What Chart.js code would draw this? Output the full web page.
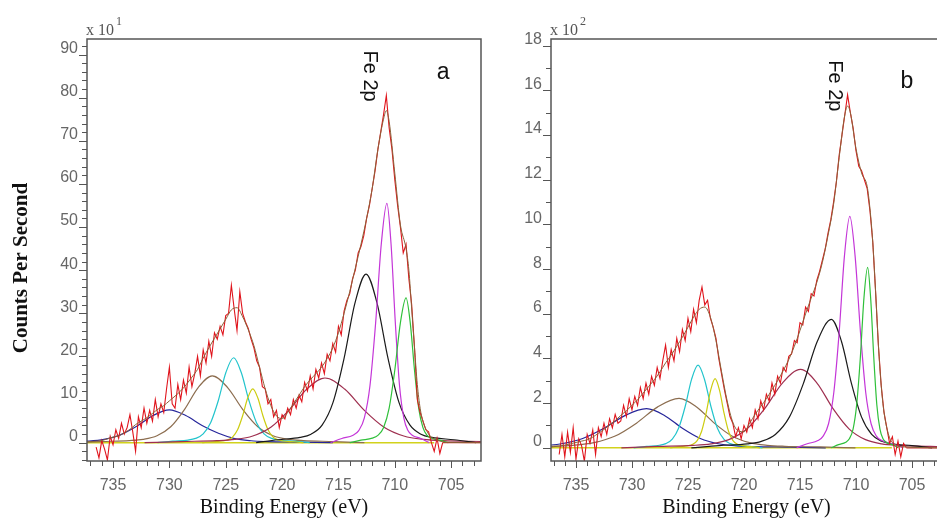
<!DOCTYPE html>
<html>
<head>
<meta charset="utf-8">
<script src="https://cdn.jsdelivr.net/npm/chart.js@4.4.1/dist/chart.umd.min.js"></script>
<style>
  html, body { margin: 0; padding: 0; background: #fff; overflow: hidden; }
  body { width: 937px; height: 523px; position: relative; }
  canvas { position: absolute; top: 0; }
  #chartA { left: 0; }
  #chartB { left: 484px; }
</style>
</head>
<body>
<canvas id="chartA" width="484" height="523"></canvas>
<canvas id="chartB" width="460" height="523"></canvas>
<script>
// raw spectra are sampled every 0.25 eV starting at 736.5 eV
const rawStart = 736.5;
const rawStep = 0.25;

// ---- panel a (counts x10) ----
const rawA = [
  -1, -3.5, 0.5, -1.5,  -4, 1.5, -0.5, 3,  1, 4.5, 2, 3.5,  6.5, 2.5, -2, 6,
  3.5, 8, 4.5, 7.5,  5, 10, 6, 9,  7, 12.5, 17.5, 9,  8, 13.5, 10, 14.5,
  11.5, 17.5, 13, 16,  20, 15.5, 21.5, 18.5,  23.5, 20, 25.5, 24,  27, 25, 29.5, 30,
  36.5, 31, 26, 35,  30, 28, 26.5, 24,  22, 19, 17.5, 13,  12.5, 9, 10, 6,
  7.5, 3.5, 6.5, 5.5,  8, 6.5, 10, 8,  11, 9.5, 14, 12,  15.5, 12.5, 17, 15,
  18.5, 16, 20.5, 19,  23, 21, 27, 25,  30.5, 33, 34.5, 38,  40, 44, 45.5, 48,
  52, 55, 59, 63,  68, 72, 76, 80.5,  73, 68, 61, 55,  50, 44, 46, 38,
  32, 22, 10, 7,  5, 3, 2.5, 0,  -2, 1, -2.5, 0
];
const envA = [[737.3,0.2],[736.5,0.35],[736,0.5],[735.5,0.9],[735,1.3],[734.5,1.6],[734,2.3],[733.5,3.1],
  [733,4.2],[732.5,5.0],[732,5.8],[731.5,6.8],[731,7.8],[730.5,8.6],[730,9.7],[729.5,10.8],[729,12.0],
  [728.5,13.5],[728,15.2],[727.5,17.0],[727,19.6],[726.5,22.0],[726,24.2],[725.5,26.4],[725,28.6],
  [724.5,30.8],[724,31.3],[723.5,29.2],[723,26.2],[722.5,22.5],[722,17.5],[721.5,12.5],[721,8.6],
  [720.5,6.2],[720,5.6],[719.5,7.0],[719,9.0],[718.5,11.0],[718,13.0],[717.5,14.6],[717,16.0],
  [716.5,17.5],[716,19.5],[715.5,22.0],[715,25.5],[714.5,30.0],[714,35.0],[713.5,40.5],[713,46.0],
  [712.5,52.0],[712,59.0],[711.5,68.0],[711,75.0],[710.75,77.0],[710.5,74.5],[710,62.5],[709.5,50.5],
  [709,45.0],[708.75,40],[708.5,31],[708.25,22],[708,13.5],[707.75,8],[707.5,5],[707,2.0],[706.5,0.9],
  [706,0.4],[705.5,0.1],[702,0]];
const navyA = [[744.5,0],[741.6,0.13],[738.7,0.24],[737.25,0.38],[735.8,0.79],[734.35,1.82],[732.9,3.8],
  [731.45,6.3],[730,7.6],[728.55,6.3],[727.1,4.0],[725.65,2.2],[724.2,0.95],[722.75,0.45],[721.3,0.26],
  [718.4,0.13],[715.5,0]];
const brownA = [[738.45,0],[736.0,0.27],[733.55,0.49],[732.33,0.78],[731.1,1.61],[729.88,3.7],[728.65,7.75],
  [727.43,12.85],[726.2,15.5],[724.85,12.85],[723.5,7.75],[722.15,3.7],[720.8,1.61],[719.45,0.78],
  [718.1,0.49],[715.4,0.27],[712.7,0]];
const cyanA = [[731.05,0],[729.7,0.35],[728.35,0.62],[727.68,1.0],[727.0,2.05],[726.33,4.71],[725.65,9.85],
  [724.98,16.33],[724.3,19.7],[723.63,16.33],[722.95,9.85],[722.28,4.71],[721.6,2.05],[720.93,1.0],
  [720.25,0.62],[718.9,0.35],[717.55,0]];
const yellowA = [[727.1,0],[726.2,0.22],[725.3,0.39],[724.85,0.63],[724.4,1.3],[723.95,2.99],[723.5,6.25],
  [723.05,10.36],[722.6,12.5],[722.15,10.36],[721.7,6.25],[721.25,2.99],[720.8,1.3],[720.35,0.63],
  [719.9,0.39],[719.0,0.22],[718.1,0]];
const maroonA = [[732.2,0],[729.0,0.27],[725.8,0.47],[724.2,0.76],[722.6,1.56],[721.0,3.59],[719.4,7.5],
  [717.8,12.44],[716.2,15.0],[714.45,12.44],[712.7,7.5],[710.95,3.59],[709.2,1.56],[707.45,0.76],
  [705.7,0.47],[702.2,0.27],[698.7,0]];
const blackA = [[722.3,0],[720.35,0.69],[718.4,1.22],[717.43,1.98],[716.45,4.07],[715.48,9.34],[714.5,19.55],
  [713.53,32.41],[712.55,39.1],[711.58,32.41],[710.6,19.55],[709.63,9.34],[708.65,4.07],[707.68,1.98],
  [706.7,1.22],[704.75,0.69],[702.8,0]];
const magentaA = [[715.7,0],[714.7,0.98],[713.7,1.74],[713.2,2.81],[712.7,5.77],[712.2,13.26],[711.7,27.75],
  [711.2,46.0],[710.7,55.5],[710.33,46.0],[709.95,27.75],[709.58,13.26],[709.2,5.77],[708.83,2.81],
  [708.45,1.74],[707.7,0.98],[706.95,0]];
const greenA = [[714.0,0],[713.0,0.59],[712.0,1.05],[711.5,1.7],[711.0,3.49],[710.5,8.03],[710.0,16.8],
  [709.5,27.85],[709.0,33.6],[708.63,27.85],[708.25,16.8],[707.88,8.03],[707.5,3.49],[707.13,1.7],
  [706.75,1.05],[706.0,0.59],[705.25,0]];
const baseA = [[737.4,0],[706.5,0]];
const tailA = [[705.75,0],[702,0]];

// ---- panel b (counts x100) ----
const rawB = [
  -0.3, 0.6, -0.4, 0.7,  -0.2, 0.9, -0.5, 0.4,  0.1, -0.6, 0.6, 0.2,  0.8, -0.3, 0.9, 0.5,
  1.1, 0.6, 1.3, 0.9,  1.5, 1.1, 1.2, 1.9,  1.4, 2.2, 1.7, 2.3,  1.9, 2.7, 2.2, 2.9,
  2.4, 3.2, 2.8, 3.6,  3.1, 3.9, 4.6, 3.6,  4.4, 3.9, 4.9, 4.3,  5.3, 4.8, 5.8, 5.2,
  6.2, 5.6, 6.6, 7.2,  6.4, 6.6, 5.8, 5.4,  4.9, 4.0, 3.3, 2.6,  2.0, 1.4, 1.1, 0.5,
  0.9, 0.4, 1.0, 0.7,  1.3, 0.9, 1.7, 1.3,  2.1, 1.7, 2.4, 2.1,  2.9, 2.4, 3.2, 2.9,
  3.6, 3.4, 4.1, 4.2,  4.8, 4.7, 5.6, 5.5,  6.3, 6.1, 6.9, 6.8,  7.5, 7.9, 8.4, 8.9,
  9.6, 10.2, 11.0, 11.9,  13.1, 14.0, 14.9, 15.8,  15.0, 14.3, 13.3, 12.6,  12.4, 12.0, 11.6, 10.6,
  9.2, 7.0, 4.6, 2.8,  1.6, 0.9, 0.2, 0.5,  -0.3, 0.3, -0.4, 0.2,  0.0
];
const envB = [[737.3,0.03],[737,0.05],[736.5,0.08],[736,0.12],[735.5,0.18],[735,0.24],[734.5,0.3],[734,0.36],
  [733.5,0.48],[733,0.65],[732.5,0.82],[732,1.02],[731.5,1.22],[731,1.45],[730.5,1.66],[730,1.9],
  [729.5,2.15],[729,2.45],[728.5,2.75],[728,3.05],[727.5,3.4],[727,3.8],[726.5,4.15],[726,4.55],
  [725.5,4.95],[725,5.4],[724.5,5.85],[724,6.2],[723.5,6.3],[723,5.85],[722.5,4.8],[722,3.4],
  [721.5,2.1],[721,1.15],[720.5,0.75],[720,0.72],[719.5,1.1],[719,1.5],[718.5,1.85],[718,2.2],
  [717.5,2.6],[717,3.0],[716.5,3.45],[716,3.95],[715.5,4.55],[715,5.25],[714.5,6.0],[714,6.7],
  [713.5,7.4],[713,8.3],[712.5,9.5],[712,10.9],[711.5,13.0],[711,14.9],[710.75,15.3],[710.5,15.0],
  [710,13.4],[709.5,12.3],[709,11.7],[708.75,10.7],[708.5,9.2],[708.25,7.0],[708,4.6],[707.75,2.8],
  [707.5,1.6],[707,0.45],[706.5,0.15],[706,0.05],[702,0]];
const navyB = [[747.7,0],[743.9,0.031],[740.1,0.055],[738.2,0.089],[736.3,0.182],[734.4,0.418],[732.5,0.875],
  [730.6,1.451],[728.7,1.75],[727.1,1.451],[725.5,0.875],[723.9,0.418],[722.3,0.182],[720.7,0.089],
  [719.1,0.055],[715.9,0.031],[712.7,0]];
const brownB = [[744.8,0],[741.0,0.039],[737.2,0.069],[735.3,0.112],[733.4,0.23],[731.5,0.528],[729.6,1.105],
  [727.7,1.832],[725.8,2.21],[724.23,1.832],[722.65,1.105],[721.08,0.528],[719.5,0.23],[717.93,0.112],
  [716.35,0.069],[713.2,0.039],[710.05,0]];
const cyanB = [[729.85,0],[728.7,0.065],[727.55,0.116],[726.98,0.187],[726.4,0.385],[725.83,0.884],[725.25,1.85],
  [724.68,3.067],[724.1,3.7],[723.53,3.067],[722.95,1.85],[722.38,0.884],[721.8,0.385],[721.23,0.187],
  [720.65,0.116],[719.5,0.065],[718.35,0]];
const yellowB = [[726.58,0],[725.78,0.055],[724.98,0.097],[724.58,0.157],[724.18,0.322],[723.78,0.741],
  [723.38,1.55],[722.98,2.57],[722.58,3.1],[722.18,2.57],[721.78,1.55],[721.38,0.741],[720.98,0.322],
  [720.58,0.157],[720.18,0.097],[719.38,0.055],[718.58,0]];
const maroonB = [[730.95,0],[727.75,0.062],[724.55,0.11],[722.95,0.178],[721.35,0.365],[719.75,0.839],
  [718.15,1.755],[716.55,2.91],[714.95,3.51],[713.5,2.91],[712.05,1.755],[710.6,0.839],[709.15,0.365],
  [707.7,0.178],[706.25,0.11],[703.35,0.062],[700.45,0]];
const blackB = [[724.7,0],[722.2,0.102],[719.7,0.18],[718.45,0.291],[717.2,0.598],[715.95,1.374],[714.7,2.875],
  [713.45,4.77],[712.2,5.75],[711.3,4.77],[710.4,2.875],[709.5,1.374],[708.6,0.598],[707.7,0.291],
  [706.8,0.18],[705.0,0.102],[703.2,0]];
const magentaB = [[715.3,0],[714.35,0.183],[713.4,0.324],[712.93,0.524],[712.45,1.077],[711.98,2.476],
  [711.5,5.18],[711.03,8.59],[710.55,10.36],[710.08,8.59],[709.6,5.18],[709.13,2.476],[708.65,1.077],
  [708.18,0.524],[707.7,0.324],[706.75,0.183],[705.8,0]];
const greenB = [[712.21,0],[711.56,0.143],[710.91,0.253],[710.59,0.409],[710.26,0.84],[709.94,1.93],
  [709.61,4.04],[709.29,6.7],[708.96,8.08],[708.69,6.7],[708.41,4.04],[708.14,1.93],[707.86,0.84],
  [707.59,0.409],[707.31,0.253],[706.76,0.143],[706.21,0]];
const baseB = [[737.4,0],[706.8,0]];
const tailB = [[705.5,0],[702,0]];

const tickFont = '"Liberation Sans", Arial, sans-serif';
const serifFont = '"Liberation Serif", "Times New Roman", serif';

function isMultiple(v, m) {
  return Math.abs(v / m - Math.round(v / m)) < 1e-6;
}

function rawPairs(values) {
  return values.map((v, i) => [rawStart - i * rawStep, v]);
}

function series(pairs, color, width, smooth) {
  return {
    data: pairs.map(p => ({ x: p[0], y: p[1] })),
    borderColor: color,
    borderWidth: width,
    pointRadius: 0,
    fill: false,
    tension: smooth ? 0.4 : 0,
    cubicInterpolationMode: smooth ? 'monotone' : 'default'
  };
}

// first dataset is drawn on top
function makeDatasets(p) {
  return [
    series(p.env, '#8a6239', 1, true),
    series(p.raw, '#e0141c', 1.1, false),
    series(p.tail, '#c8302c', 1.2, false),
    series(p.green, '#2fc03a', 1.2, true),
    series(p.magenta, '#c436d8', 1.2, true),
    series(p.black, '#1a1a1a', 1.2, true),
    series(p.maroon, '#9e2f4f', 1.2, true),
    series(p.yellow, '#cccc10', 1.2, true),
    series(p.cyan, '#22c4cc', 1.2, true),
    series(p.brown, '#8c6d4f', 1.2, true),
    series(p.navy, '#26269a', 1.2, true),
    series(p.base, '#d2d21c', 1.5, false)
  ];
}

// frame, tick marks and the texts of each panel
const notesPlugin = {
  id: 'notes',
  afterDraw(chart, args, o) {
    const ctx = chart.ctx;
    const a = chart.chartArea;
    const xs = chart.scales.x;
    const ys = chart.scales.y;
    ctx.save();

    ctx.strokeStyle = '#555';
    ctx.lineWidth = 1;
    ctx.beginPath();
    xs.ticks.forEach(t => {
      const px = Math.round(xs.getPixelForValue(t.value)) + 0.5;
      const len = isMultiple(t.value, 5) ? 7 : 5;
      ctx.moveTo(px, a.bottom);
      ctx.lineTo(px, a.bottom + len);
    });
    ys.ticks.forEach(t => {
      const py = Math.round(ys.getPixelForValue(t.value)) + 0.5;
      const len = isMultiple(t.value, o.yMajor) ? 8 : 5;
      ctx.moveTo(a.left, py);
      ctx.lineTo(a.left - len, py);
    });
    ctx.stroke();

    ctx.lineWidth = 1.5;
    ctx.strokeRect(a.left, a.top, a.right - a.left, a.bottom - a.top);

    // Fe 2p, rotated clockwise
    ctx.fillStyle = '#111';
    ctx.textAlign = 'center';
    ctx.textBaseline = 'middle';
    ctx.save();
    ctx.translate(xs.getPixelForValue(o.feE), ys.getPixelForValue(o.feY));
    ctx.rotate(Math.PI / 2);
    ctx.font = '20px ' + tickFont;
    ctx.fillText('Fe 2p', 0, 0);
    ctx.restore();

    ctx.font = '23px ' + tickFont;
    ctx.fillText(o.letter, xs.getPixelForValue(o.letterE), ys.getPixelForValue(o.letterY));

    // multiplier
    ctx.fillStyle = '#555';
    ctx.textAlign = 'left';
    ctx.font = '16px ' + serifFont;
    ctx.fillText('x 10', a.left - 1, 31);
    ctx.font = '12px ' + serifFont;
    ctx.fillText(o.exp, a.left + 29, 22);

    // axis titles
    ctx.fillStyle = '#111';
    ctx.textAlign = 'center';
    ctx.font = '20px ' + serifFont;
    ctx.fillText('Binding Energy (eV)', (a.left + a.right) / 2, 508);
    if (o.yTitle) {
      ctx.save();
      ctx.translate(22, 268);
      ctx.rotate(-Math.PI / 2);
      ctx.font = 'bold 21px ' + serifFont;
      ctx.fillText('Counts Per Second', 0, 0);
      ctx.restore();
    }
    ctx.restore();
  }
};

function makeOptions(cfg) {
  const tickGrid = {
    display: true, drawOnChartArea: false, drawTicks: true,
    tickLength: 7, tickColor: 'rgba(0,0,0,0)'
  };
  return {
    responsive: false,
    animation: false,
    devicePixelRatio: 1,
    events: [],
    layout: { padding: { top: 39, right: cfg.padRight, left: 0, bottom: 0 } },
    plugins: {
      legend: { display: false },
      tooltip: { enabled: false },
      notes: cfg.notes
    },
    scales: {
      x: {
        type: 'linear',
        reverse: true,
        min: cfg.xMin,
        max: cfg.xMax,
        afterFit: s => { s.height = 62; },
        grid: tickGrid,
        border: { display: false },
        ticks: {
          stepSize: 1, autoSkip: false, includeBounds: false, maxRotation: 0,
          padding: 8, color: '#666', font: { family: tickFont, size: 16 },
          callback: v => isMultiple(v, 5) ? String(v) : ''
        }
      },
      y: {
        type: 'linear',
        min: cfg.yMin,
        max: cfg.yMax,
        afterFit: s => { s.width = cfg.yWidth; },
        grid: tickGrid,
        border: { display: false },
        ticks: {
          stepSize: cfg.yMinor, autoSkip: false, includeBounds: false,
          padding: 2, labelOffset: -6, color: '#666', font: { family: tickFont, size: 16 },
          callback: v => isMultiple(v, cfg.yMajor) ? String(v) : ''
        }
      }
    }
  };
}

new Chart(document.getElementById('chartA'), {
  type: 'line',
  data: {
    datasets: makeDatasets({
      env: envA, raw: rawPairs(rawA), tail: tailA, base: baseA,
      navy: navyA, brown: brownA, cyan: cyanA, yellow: yellowA,
      maroon: maroonA, black: blackA, magenta: magentaA, green: greenA
    })
  },
  options: makeOptions({
    xMin: 702.35, xMax: 737.31, yMin: -4.24, yMax: 93.6,
    yMinor: 2, yMajor: 10, yWidth: 87, padRight: 3,
    notes: { yMajor: 10, letter: 'a', letterE: 705.7, letterY: 85.7, feE: 712.2, feY: 85, exp: '1', yTitle: true }
  }),
  plugins: [notesPlugin]
});

new Chart(document.getElementById('chartB'), {
  type: 'line',
  data: {
    datasets: makeDatasets({
      env: envB, raw: rawPairs(rawB), tail: tailB, base: baseB,
      navy: navyB, brown: brownB, cyan: cyanB, yellow: yellowB,
      maroon: maroonB, black: blackB, magenta: magentaB, green: greenB
    })
  },
  options: makeOptions({
    xMin: 702.32, xMax: 737.23, yMin: -0.59, yMax: 18.3,
    yMinor: 1, yMajor: 2, yWidth: 67, padRight: 2,
    notes: { yMajor: 2, letter: 'b', letterE: 705.45, letterY: 16.4, feE: 711.96, feY: 16.2, exp: '2', yTitle: false }
  }),
  plugins: [notesPlugin]
});
</script>
</body>
</html>
